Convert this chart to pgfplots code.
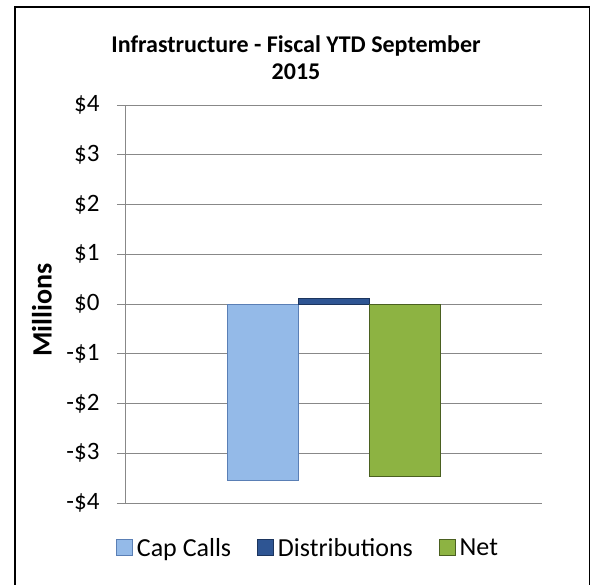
\documentclass[border=0pt]{standalone}
\usepackage{pgfplots}
\pgfplotsset{compat=1.18}
\usepackage{fontspec}
\setmainfont{Carlito}
\definecolor{capfill}{HTML}{94BAE8}
\definecolor{capedge}{HTML}{5A7FB5}
\definecolor{disfill}{HTML}{2E5593}
\definecolor{disedge}{HTML}{1C355E}
\definecolor{netfill}{HTML}{8DB342}
\definecolor{netedge}{HTML}{4A6020}
\definecolor{gridc}{HTML}{888888}
\newcommand{\tl}[1]{#1\hspace*{14bp}}
\begin{document}
\begin{tikzpicture}
\useasboundingbox (-125bp,-82bp) rectangle (466bp,503bp);
\draw[line width=1.6bp] (-110bp,-95bp) rectangle (464.5bp,496bp);
\begin{axis}[
  at={(0,0)}, anchor=south west,
  scale only axis, width=417bp, height=398bp,
  ybar=0pt, bar width=71bp,
  xmin=-1, xmax=1, ymin=-4, ymax=4,
  xtick=\empty,
  ytick={-4,-3,-2,-1,0,1,2,3,4},
  yticklabels={\tl{-\$4},\tl{-\$3},\tl{-\$2},\tl{-\$1},\tl{\$0},\tl{\$1},\tl{\$2},\tl{\$3},\tl{\$4}},
  ymajorgrids, grid style={gridc, line width=0.9bp},
  axis x line=none,
  axis y line*=left,
  y axis line style={gridc, line width=0.9bp, -},
  tick align=outside, major tick length=8bp,
  ytick style={gridc, line width=0.9bp},
  yticklabel style={font=\fontsize{25bp}{28bp}\selectfont},
  legend style={at={(0.439,-0.113)}, anchor=center, draw=none,
    legend columns=-1, font=\fontsize{26bp}{28bp}\selectfont,
    /tikz/every even column/.append style={column sep=24bp},
    /tikz/every odd column/.append style={column sep=2bp}},
  legend image code/.code={\draw[#1] (0bp,-7bp) rectangle (16bp,9bp);},
]
\addplot[fill=capfill, draw=capedge, line width=0.8bp] coordinates {(0,-3.55)};
\addplot[fill=disfill, draw=disedge, line width=0.8bp] coordinates {(0,0.11)};
\addplot[fill=netfill, draw=netedge, line width=0.8bp] coordinates {(0,-3.46)};
\legend{Cap Calls, Distributions, Net}
\end{axis}
\node[font=\bfseries\fontsize{24bp}{27bp}\selectfont, align=center] at (171bp,445bp) {Infrastructure - Fiscal YTD September\\2015};
\node[font=\bfseries\fontsize{28bp}{30bp}\selectfont, rotate=90] at (-83bp,193bp) {Millions};
\end{tikzpicture}
\end{document}
